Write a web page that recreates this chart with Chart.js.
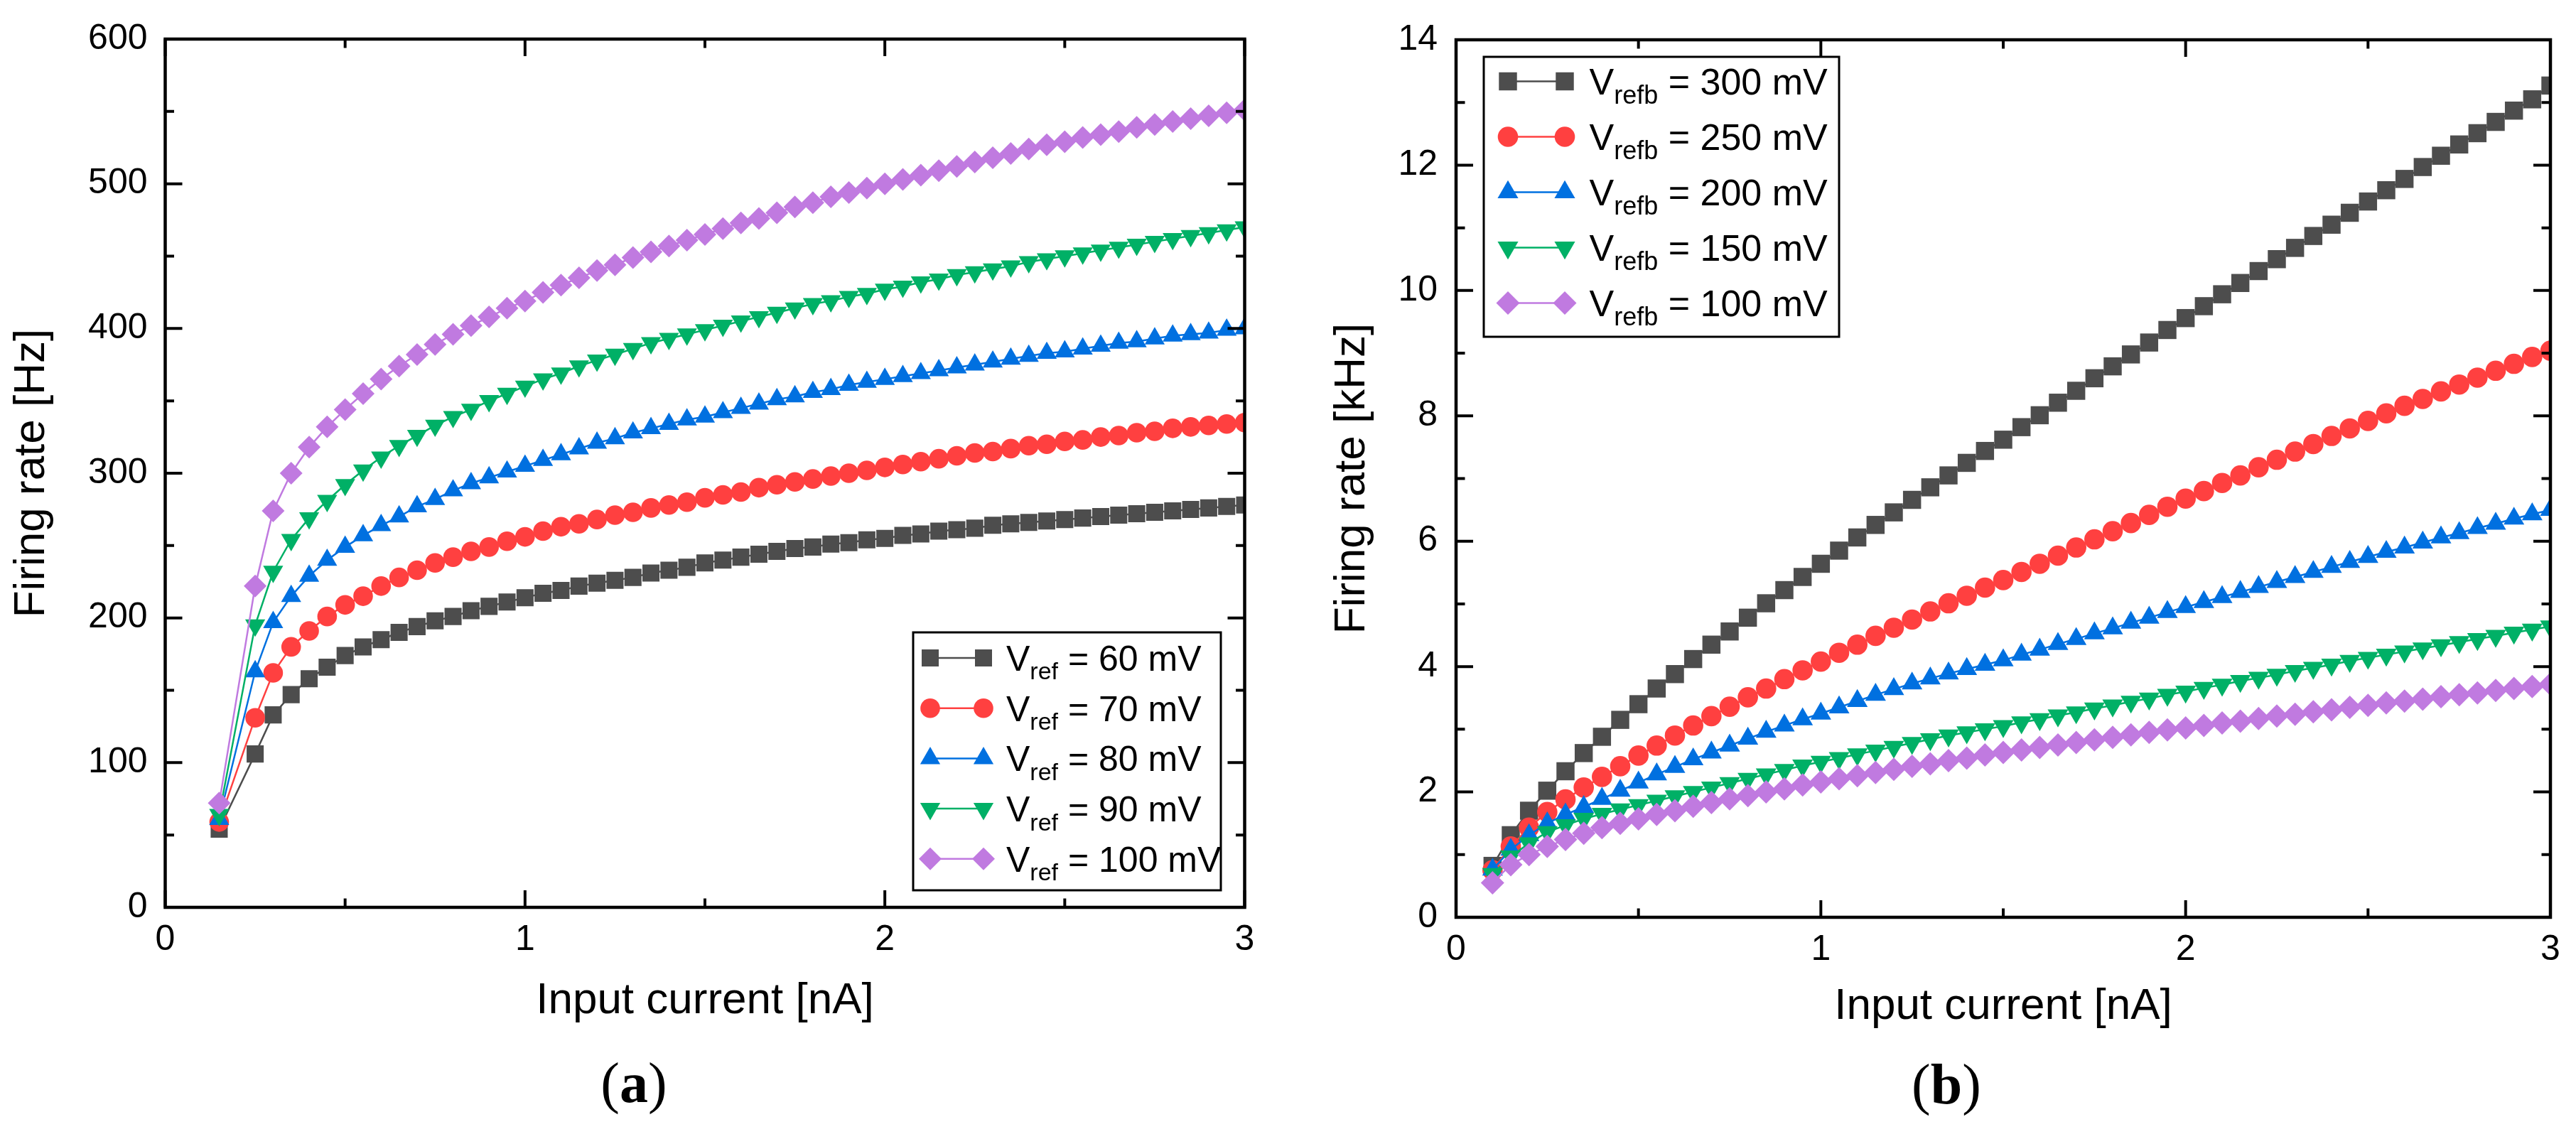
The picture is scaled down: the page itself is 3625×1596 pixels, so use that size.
<!DOCTYPE html>
<html>
<head>
<meta charset="utf-8">
<script src="https://cdn.jsdelivr.net/npm/chart.js@4.4.1/dist/chart.umd.min.js"></script>
<style>
html,body{margin:0;padding:0;background:#fff;width:3625px;height:1596px;overflow:hidden}
#wa{position:absolute;left:0;top:0;width:1812px;height:1596px}
#wb{position:absolute;left:1812px;top:0;width:1813px;height:1596px}
.lab{position:absolute;font-family:"Liberation Serif","DejaVu Serif",serif;font-size:80px;line-height:1;color:#000;white-space:nowrap;transform:translateX(-50%)}
.lab b{font-weight:bold}
</style>
</head>
<body>
<div id="wa"><canvas id="ca" width="1812" height="1596"></canvas></div>
<div id="wb"><canvas id="cb" width="1813" height="1596"></canvas></div>
<div class="lab" style="left:892px;top:1484px">(<b>a</b>)</div>
<div class="lab" style="left:2739px;top:1486px">(<b>b</b>)</div>
<script>
// ---------- Panel (a) data: firing rate [Hz] vs input current [nA] ----------
const xA = [0.15,0.25,0.30,0.35,0.40,0.45,0.50,0.55,0.60,0.65,
            0.70,0.75,0.80,0.85,0.90,0.95,1.00,1.05,1.10,1.15,
            1.20,1.25,1.30,1.35,1.40,1.45,1.50,1.55,1.60,1.65,
            1.70,1.75,1.80,1.85,1.90,1.95,2.00,2.05,2.10,2.15,
            2.20,2.25,2.30,2.35,2.40,2.45,2.50,2.55,2.60,2.65,
            2.70,2.75,2.80,2.85,2.90,2.95,3.00];
const vref60 = [54,106,133,147,158,166,174,180,185,190,
                194,198,201,205,208,211,214,217,219,222,
                224,226,228,231,233,235,238,240,242,244,
                246,248,249,251,252,254,255,257,258,260,
                261,262,264,265,266,267,268,269,270,271,
                272,273,274,275,276,277,278];
const vref70 = [59,131,162,180,191,201,209,215,222,228,
                233,238,242,246,249,253,256,260,263,265,
                268,271,273,276,278,280,283,285,287,290,
                292,294,296,298,300,302,304,306,308,310,
                312,314,315,317,319,320,322,323,325,326,
                328,329,331,332,333,334,335];
const vref80 = [61,163,197,215,229,240,249,257,264,270,
                277,282,288,293,297,301,305,309,313,317,
                321,324,328,331,334,337,339,342,345,348,
                351,353,356,358,361,363,365,367,369,371,
                373,375,377,379,381,383,384,386,388,390,
                391,393,395,396,397,399,400];
const vref90 = [64,195,232,254,269,281,292,302,311,319,
                326,333,339,344,350,355,360,365,369,374,
                378,382,386,390,393,396,399,402,405,408,
                411,414,417,419,422,424,427,429,432,434,
                437,439,441,443,446,448,450,452,454,456,
                458,460,462,464,466,468,470];
const vref100 = [72,222,274,300,318,332,344,355,365,374,
                 382,389,396,402,408,414,419,425,430,435,
                 440,444,449,453,457,461,465,469,473,476,
                 480,484,487,491,494,497,500,503,506,509,
                 512,515,518,521,524,527,529,532,534,536,
                 539,541,543,545,547,549,551];
const legendA = ['60 mV','70 mV','80 mV','90 mV','100 mV'];

// ---------- Panel (b) data: firing rate [kHz] vs input current [nA] ----------
const xB = [0.10,0.15,0.20,0.25,0.30,0.35,0.40,0.45,0.50,0.55,
            0.60,0.65,0.70,0.75,0.80,0.85,0.90,0.95,1.00,1.05,
            1.10,1.15,1.20,1.25,1.30,1.35,1.40,1.45,1.50,1.55,
            1.60,1.65,1.70,1.75,1.80,1.85,1.90,1.95,2.00,2.05,
            2.10,2.15,2.20,2.25,2.30,2.35,2.40,2.45,2.50,2.55,
            2.60,2.65,2.70,2.75,2.80,2.85,2.90,2.95,3.00];
const vrefb300 = [0.82,1.31,1.70,2.02,2.33,2.62,2.88,3.15,3.40,3.65,
                  3.88,4.12,4.35,4.56,4.78,5.01,5.22,5.43,5.64,5.85,
                  6.06,6.26,6.46,6.66,6.86,7.05,7.25,7.44,7.62,7.82,
                  8.01,8.21,8.40,8.60,8.79,8.98,9.17,9.37,9.56,9.75,
                  9.94,10.12,10.31,10.50,10.68,10.87,11.05,11.24,11.42,11.60,
                  11.78,11.97,12.15,12.33,12.51,12.69,12.87,13.05,13.27];
const vrefb250 = [0.75,1.13,1.43,1.68,1.88,2.07,2.24,2.41,2.58,2.74,
                  2.90,3.06,3.21,3.36,3.51,3.65,3.80,3.94,4.08,4.22,
                  4.35,4.49,4.62,4.75,4.88,5.01,5.13,5.26,5.38,5.51,
                  5.64,5.77,5.90,6.03,6.16,6.29,6.42,6.55,6.68,6.80,
                  6.93,7.05,7.18,7.30,7.43,7.55,7.68,7.80,7.92,8.04,
                  8.16,8.27,8.39,8.50,8.61,8.72,8.83,8.94,9.04];
const vrefb200 = [0.76,1.08,1.31,1.50,1.64,1.76,1.89,2.02,2.15,2.28,
                  2.40,2.52,2.63,2.74,2.85,2.96,3.06,3.16,3.25,3.35,
                  3.45,3.55,3.64,3.73,3.81,3.89,3.96,4.03,4.10,4.19,
                  4.27,4.36,4.44,4.53,4.61,4.70,4.78,4.87,4.95,5.03,
                  5.11,5.19,5.27,5.35,5.43,5.51,5.59,5.67,5.75,5.83,
                  5.90,5.98,6.06,6.13,6.21,6.28,6.36,6.43,6.50];
const vrefb150 = [0.69,0.97,1.18,1.36,1.47,1.57,1.65,1.72,1.79,1.86,
                  1.93,2.00,2.07,2.14,2.21,2.28,2.35,2.42,2.48,2.54,
                  2.60,2.66,2.72,2.78,2.84,2.90,2.95,3.00,3.05,3.11,
                  3.16,3.22,3.27,3.33,3.38,3.44,3.49,3.55,3.60,3.66,
                  3.71,3.77,3.82,3.87,3.93,3.98,4.03,4.09,4.14,4.19,
                  4.24,4.29,4.34,4.39,4.44,4.49,4.54,4.59,4.64];
const vrefb100 = [0.55,0.84,1.00,1.13,1.24,1.34,1.43,1.50,1.57,1.64,
                  1.70,1.77,1.83,1.89,1.94,2.00,2.05,2.11,2.16,2.21,
                  2.26,2.31,2.36,2.41,2.45,2.50,2.54,2.59,2.63,2.67,
                  2.71,2.75,2.79,2.83,2.87,2.91,2.95,2.99,3.02,3.06,
                  3.10,3.13,3.17,3.21,3.24,3.28,3.31,3.35,3.38,3.42,
                  3.45,3.48,3.52,3.55,3.58,3.62,3.65,3.68,3.72];
const legendB = ['300 mV','250 mV','200 mV','150 mV','100 mV'];

// tick positions (inward ticks on all four sides)
const xMajor = [0,1,2,3], xMinor = [0.5,1.5,2.5];
const yMajorA = [0,100,200,300,400,500,600], yMinorA = [50,150,250,350,450,550];
const yMajorB = [0,2,4,6,8,10,12,14], yMinorB = [1,3,5,7,9,11,13];

// ---------- styling ----------
const colors = ['#4d4d4d','#ff4040','#0070e0','#00b066','#c07ae0'];
const styles = [
  {pointStyle:'rect', rot:0},
  {pointStyle:'circle', rot:0},
  {pointStyle:'triangle', rot:0},
  {pointStyle:'triangle', rot:180},
  {pointStyle:'rectRot', rot:0}
];
const FONT = '"Liberation Sans", Arial, Helvetica, sans-serif';
Chart.defaults.font.family = FONT;
Chart.defaults.color = '#000';

function toPts(xs, ys){ return xs.map((x,i)=>({x:x, y:ys[i]})); }

function makeDatasets(xs, series, labels, prefix, radii){
  return series.map((ys,i)=>({
    label: prefix + ' = ' + labels[i],
    data: toPts(xs, ys),
    borderColor: colors[i],
    backgroundColor: colors[i],
    borderWidth: 2.5,
    pointStyle: styles[i].pointStyle,
    pointRotation: styles[i].rot,
    pointRadius: radii[i],
    pointBackgroundColor: colors[i],
    pointBorderColor: colors[i],
    pointBorderWidth: 0,
    tension: 0,
    clip: 0,
    order: 5 - i
  }));
}

const framePlugin = {
  id: 'frame',
  afterDatasetsDraw(chart, args, o){
    const {ctx, chartArea:a, scales:{x, y}} = chart;
    ctx.save();
    ctx.strokeStyle = '#000';
    ctx.lineCap = 'butt';
    ctx.lineWidth = o.tickWidth;
    ctx.beginPath();
    const vx = (vals, len) => vals.forEach(v => {
      const p = x.getPixelForValue(v);
      ctx.moveTo(p, a.bottom); ctx.lineTo(p, a.bottom - len);
      ctx.moveTo(p, a.top); ctx.lineTo(p, a.top + len);
    });
    const vy = (vals, len) => vals.forEach(v => {
      const p = y.getPixelForValue(v);
      ctx.moveTo(a.left, p); ctx.lineTo(a.left + len, p);
      ctx.moveTo(a.right, p); ctx.lineTo(a.right - len, p);
    });
    vx(o.xMajor, o.major); vx(o.xMinor, o.minor);
    vy(o.yMajor, o.major); vy(o.yMinor, o.minor);
    ctx.stroke();
    ctx.lineWidth = o.frameWidth;
    ctx.strokeRect(a.left, a.top, a.right - a.left, a.bottom - a.top);
    ctx.restore();
  }
};

const legendPlugin = {
  id: 'vlegend',
  afterDraw(chart, args, o){
    const ctx = chart.ctx;
    ctx.save();
    ctx.fillStyle = '#fff';
    ctx.fillRect(o.box[0], o.box[1], o.box[2], o.box[3]);
    ctx.strokeStyle = '#000';
    ctx.lineWidth = o.boxWidth;
    ctx.strokeRect(o.box[0], o.box[1], o.box[2], o.box[3]);
    chart.data.datasets.forEach((ds, i) => {
      const yy = o.row0 + o.rowStep * i;
      ctx.strokeStyle = ds.borderColor;
      ctx.lineWidth = 2.5;
      ctx.beginPath(); ctx.moveTo(o.m1, yy); ctx.lineTo(o.m2, yy); ctx.stroke();
      ctx.fillStyle = ds.pointBackgroundColor;
      ctx.strokeStyle = ds.pointBorderColor;
      const opt = {pointStyle: ds.pointStyle, rotation: ds.pointRotation, radius: ds.pointRadius, borderWidth: 0};
      Chart.helpers.drawPoint(ctx, opt, o.m1, yy);
      ctx.fillStyle = ds.pointBackgroundColor;
      Chart.helpers.drawPoint(ctx, opt, o.m2, yy);
      // text: V + subscript + value
      ctx.fillStyle = '#000';
      ctx.textBaseline = 'alphabetic';
      ctx.textAlign = 'left';
      let tx = o.tx;
      const base = yy + o.fs * 0.358;
      ctx.font = o.fs + 'px ' + FONT;
      ctx.fillText('V', tx, base);
      tx += ctx.measureText('V').width;
      ctx.font = o.sfs + 'px ' + FONT;
      ctx.fillText(o.sub, tx, base + o.subDrop);
      tx += ctx.measureText(o.sub).width;
      ctx.font = o.fs + 'px ' + FONT;
      ctx.fillText(' = ' + o.values[i], tx, base);
    });
    ctx.restore();
  }
};

function axisCfg(min, max, step, titleText, titlePad, pad, fit){
  return {
    type: 'linear', min: min, max: max,
    ticks: {stepSize: step, font: {size: 50}, color: '#000', padding: pad},
    grid: {display: false, drawTicks: false},
    border: {display: false},
    title: {display: true, text: titleText, font: {size: 62}, color: '#000', padding: titlePad},
    afterFit: fit
  };
}

// ---------- chart (a) ----------
new Chart(document.getElementById('ca'), {
  type: 'line',
  data: {datasets: makeDatasets(xA, [vref60, vref70, vref80, vref90, vref100], legendA, 'Vref', [17, 13.8, 16.3, 16.3, 16])},
  options: {
    responsive: false, animation: false, devicePixelRatio: 1, events: [],
    layout: {padding: {left: 0, right: 60.5, top: 52, bottom: 0}},
    scales: {
      x: axisCfg(0, 3, 1, 'Input current [nA]', {top: 0, bottom: 150}, 16, s => { s.height = 319; }),
      y: axisCfg(0, 600, 100, 'Firing rate [Hz]', {top: 8, bottom: 0}, 25, s => { s.width = 232.5; })
    },
    plugins: {
      legend: {display: false}, tooltip: {enabled: false},
      frame: {xMajor: xMajor, xMinor: xMinor, yMajor: yMajorA, yMinor: yMinorA, major: 24, minor: 12.5, tickWidth: 4, frameWidth: 4.5},
      vlegend: {box: [1285, 890, 433, 363], boxWidth: 3, row0: 926, rowStep: 70.7, m1: 1309, m2: 1384, tx: 1416, fs: 50, sfs: 34, subDrop: 12.5, sub: 'ref', values: legendA}
    }
  },
  plugins: [framePlugin, legendPlugin]
});

// ---------- chart (b) ----------
new Chart(document.getElementById('cb'), {
  type: 'line',
  data: {datasets: makeDatasets(xB, [vrefb300, vrefb250, vrefb200, vrefb150, vrefb100], legendB, 'Vrefb', [18, 14.3, 16.8, 16.8, 16.5])},
  options: {
    responsive: false, animation: false, devicePixelRatio: 1, events: [],
    layout: {padding: {left: 0, right: 36, top: 46, bottom: 0}},
    scales: {
      x: axisCfg(0, 3, 1, 'Input current [nA]', {top: 0, bottom: 142}, 16, s => { s.height = 305; }),
      y: axisCfg(0, 14, 2, 'Firing rate [kHz]', {top: 54, bottom: 0}, 26, s => { s.width = 237; })
    },
    plugins: {
      legend: {display: false}, tooltip: {enabled: false},
      frame: {xMajor: xMajor, xMinor: xMinor, yMajor: yMajorB, yMinor: yMinorB, major: 24, minor: 12.5, tickWidth: 4, frameWidth: 4.5},
      vlegend: {box: [276, 80, 500, 394], boxWidth: 3, row0: 114.5, rowStep: 78, m1: 310, m2: 390, tx: 424.5, fs: 52, sfs: 36, subDrop: 12.5, sub: 'refb', values: legendB}
    }
  },
  plugins: [framePlugin, legendPlugin]
});
</script>
</body>
</html>
